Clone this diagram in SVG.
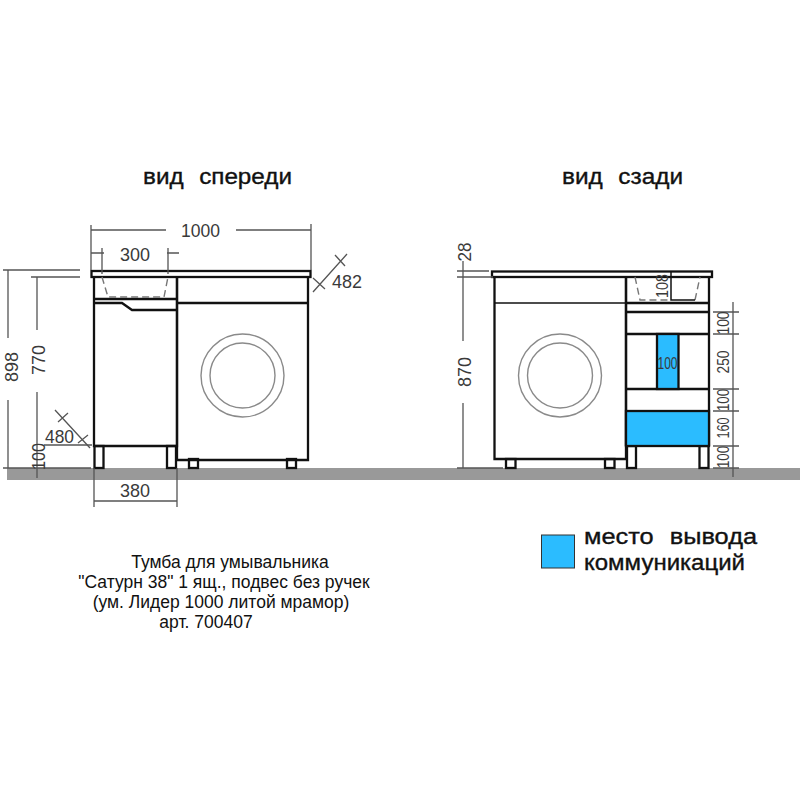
<svg xmlns="http://www.w3.org/2000/svg" width="800" height="800" viewBox="0 0 800 800">
<style>
.o{fill:none;stroke:#111;stroke-width:2.3}
.t{fill:none;stroke:#111;stroke-width:1.5}
.b{fill:#2bbcff;stroke:#111;stroke-width:2.3}
.d{fill:none;stroke:#555;stroke-width:1.3}
.h{fill:none;stroke:#777;stroke-width:1.4;stroke-dasharray:7 4}
.c{fill:none;stroke:#8a8a8a;stroke-width:1.4}
.n{font-family:"Liberation Sans",sans-serif;font-size:19px;fill:#3a3a3a;text-anchor:middle}
.s{font-family:"Liberation Sans",sans-serif;font-size:17px;fill:#3a3a3a;text-anchor:middle}
.g{font-family:"Liberation Sans",sans-serif;font-size:22px;fill:#111;stroke:#111;stroke-width:.35;word-spacing:8px}
.l{font-family:"Liberation Sans",sans-serif;font-size:17.500px;fill:#111;text-anchor:middle}
</style>
<rect id="floor" x="7" y="468" width="793" height="12" fill="#999"/>
<g id="front-view">
<g id="front-legs">
<rect class="o" x="94.500" y="446" width="9" height="22"/>
<rect class="o" x="167" y="446" width="9" height="22"/>
<rect class="o" x="189" y="459" width="9" height="9"/>
<rect class="o" x="287" y="459" width="9" height="9"/>
</g>
<rect id="front-slab" class="o" x="91.500" y="271" width="219" height="6"/>
<g id="front-cabinet">
<path class="o" d="M94 277V446H177V277"/>
<path class="o" d="M94 299H177"/>
<path class="o" d="M94 303H122L132 310H176"/>
<path class="h" d="M102 277L108 297H164L168 277"/>
</g>
<g id="front-washer">
<path class="o" d="M177 277V460H308V277"/>
<path class="o" d="M177 303H308"/>
<circle class="c" cx="242.500" cy="375.500" r="41.500"/>
<circle class="c" cx="242.500" cy="375.500" r="32.500"/>
</g>
</g>
<g id="rear-view">
<g id="rear-legs">
<rect class="o" x="506" y="459" width="9.500" height="9"/>
<rect class="o" x="605" y="459" width="9.500" height="9"/>
<rect class="o" x="627" y="446" width="9" height="22"/>
<rect class="o" x="699.500" y="446" width="9" height="22"/>
</g>
<rect id="rear-slab" class="o" x="492" y="271.500" width="220" height="5.500"/>
<g id="rear-washer">
<path class="o" d="M494.500 277V459H626V277"/>
<path class="t" d="M494 303H626"/>
<circle class="c" cx="560" cy="375.500" r="41.500"/>
<circle class="c" cx="560" cy="375.500" r="32.500"/>
</g>
<g id="rear-cabinet">
<path class="o" d="M626 277V446M709 277V446"/>
<path class="o" d="M626 303H709M626 312H709M626 334H709M626 389H709"/>
<rect id="service-opening-wide" class="b" x="626" y="411" width="83" height="35"/>
<rect id="service-opening-narrow" class="b" x="657" y="334" width="21.500" height="55"/>
<path class="h" d="M635 277L640 300H671M695 300L700 277"/>
<path class="t" d="M671 271V300H695"/>
</g>
</g>
<g id="connectors">
<path class="d" d="M91 225V270M91 230H166M236 230H311M311 224V270"/>
<path class="d" d="M91 253H104M102 248V274M168 248V274M167 253H179"/>
<path class="d" d="M3 270H80M8 270V338M31 277H80M37 277V330"/>
<path class="d" d="M8 400V468M3 468H91M37 392V478M30 468H44M44 445H92"/>
<path class="d" d="M55 410L90 448M58 422L68 413M78 443L88 435"/>
<path class="d" d="M94 468V507M177 468V507M94 501H177"/>
<path class="d" d="M313 292L347 254M313 278L325 289M335 255L345 266"/>
<path class="d" d="M463 261V341M457 271H489M457 277H493M463 403V468M457 468H503"/>
<path class="d" d="M733 302V477M713 312H739M713 334H739M713 389H739M713 411H739M713 446H739M713 468H739"/>
</g>
<g id="dimension-labels">
<text class="n" x="200.500" y="237" textLength="39" lengthAdjust="spacingAndGlyphs">1000</text>
<text class="n" x="135" y="261" textLength="30" lengthAdjust="spacingAndGlyphs">300</text>
<text class="n" x="347" y="288" textLength="30" lengthAdjust="spacingAndGlyphs">482</text>
<text class="n" x="59.500" y="443" textLength="29" lengthAdjust="spacingAndGlyphs">480</text>
<text class="n" x="135" y="497" textLength="30" lengthAdjust="spacingAndGlyphs">380</text>
<text class="n" transform="translate(18,367) rotate(-90)" textLength="30" lengthAdjust="spacingAndGlyphs">898</text>
<text class="n" transform="translate(45,360) rotate(-90)" textLength="30" lengthAdjust="spacingAndGlyphs">770</text>
<text class="n" transform="translate(45,456.500) rotate(-90)" textLength="27" lengthAdjust="spacingAndGlyphs">100</text>
<text class="n" transform="translate(471,252) rotate(-90)" textLength="19" lengthAdjust="spacingAndGlyphs">28</text>
<text class="n" transform="translate(471,372) rotate(-90)" textLength="30" lengthAdjust="spacingAndGlyphs">870</text>
<text class="s" transform="translate(668,286) rotate(-90)" textLength="24" lengthAdjust="spacingAndGlyphs">108</text>
<text class="s" x="667.500" y="368.500" textLength="20" lengthAdjust="spacingAndGlyphs">100</text>
<text class="s" transform="translate(729,323) rotate(-90)" textLength="23" lengthAdjust="spacingAndGlyphs">100</text>
<text class="s" transform="translate(729,362) rotate(-90)" textLength="23" lengthAdjust="spacingAndGlyphs">250</text>
<text class="s" transform="translate(729,400) rotate(-90)" textLength="22" lengthAdjust="spacingAndGlyphs">100</text>
<text class="s" transform="translate(729,428) rotate(-90)" textLength="21" lengthAdjust="spacingAndGlyphs">160</text>
<text class="s" transform="translate(729,457) rotate(-90)" textLength="22" lengthAdjust="spacingAndGlyphs">100</text>
</g>
<g id="headings">
<text class="g" x="143" y="184" textLength="149" lengthAdjust="spacingAndGlyphs">вид спереди</text>
<text class="g" x="562" y="184" textLength="121" lengthAdjust="spacingAndGlyphs">вид сзади</text>
</g>
<g id="legend">
<rect class="b" x="541.500" y="535" width="33" height="33" style="stroke:#333;stroke-width:1"/>
<text class="g" x="584" y="544" textLength="173" lengthAdjust="spacingAndGlyphs">место вывода</text>
<text class="g" x="584" y="570" textLength="161" lengthAdjust="spacingAndGlyphs">коммуникаций</text>
</g>
<g id="caption">
<text class="l" x="230" y="568">Тумба для умывальника</text>
<text class="l" x="224" y="588">"Сатурн 38" 1 ящ., подвес без ручек</text>
<text class="l" x="221" y="608">(ум. Лидер 1000 литой мрамор)</text>
<text class="l" x="206" y="628">арт. 700407</text>
</g>
</svg>
